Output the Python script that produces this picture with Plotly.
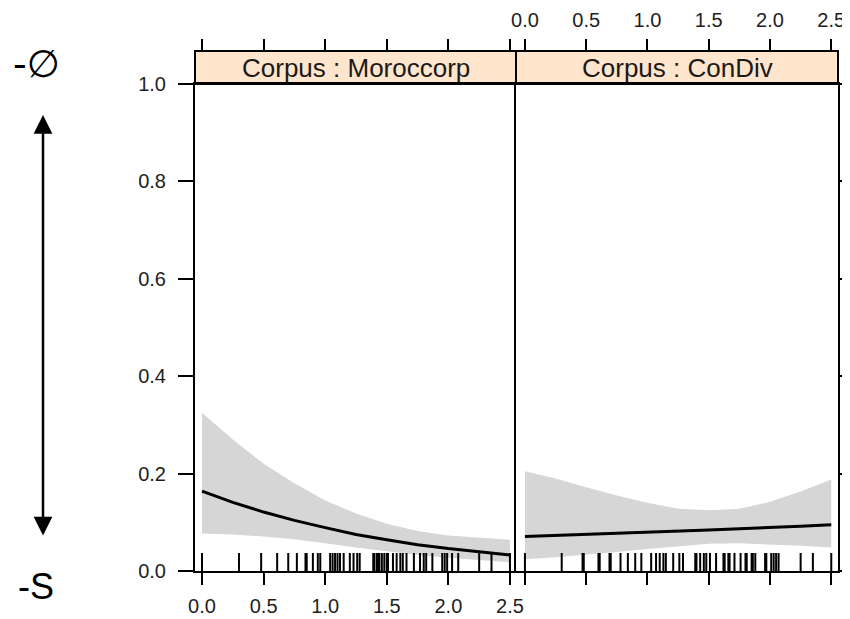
import plotly.graph_objects as go

# ---------------- data ----------------
x_grid = [0.0, 0.25, 0.5, 0.75, 1.0, 1.25, 1.5, 1.75, 2.0, 2.25, 2.5]

moro_fit = [0.164, 0.141, 0.121, 0.104, 0.089, 0.075, 0.064, 0.054, 0.046, 0.039, 0.033]
moro_upper = [0.325, 0.270, 0.220, 0.180, 0.145, 0.118, 0.097, 0.082, 0.073, 0.068, 0.064]
moro_lower = [0.077, 0.075, 0.071, 0.065, 0.057, 0.048, 0.040, 0.033, 0.027, 0.022, 0.018]

condiv_fit = [0.071, 0.073, 0.075, 0.077, 0.079, 0.082, 0.084, 0.087, 0.089, 0.092, 0.095]
condiv_upper = [0.205, 0.190, 0.172, 0.155, 0.140, 0.128, 0.125, 0.128, 0.142, 0.163, 0.188]
condiv_lower = [0.024, 0.028, 0.033, 0.039, 0.045, 0.051, 0.056, 0.057, 0.055, 0.052, 0.048]

moro_rug = [0.0, 0.30, 0.48, 0.61, 0.70, 0.77, 0.84, 0.85, 0.90, 0.94, 0.96, 1.04, 1.06,
            1.08, 1.10, 1.12, 1.15, 1.20, 1.23, 1.26, 1.28, 1.39, 1.40, 1.42, 1.43, 1.44,
            1.46, 1.48, 1.50, 1.51, 1.55, 1.58, 1.61, 1.63, 1.66, 1.72, 1.77, 1.80, 1.82,
            1.87, 1.95, 1.97, 1.99, 2.03, 2.08, 2.25, 2.35, 2.50]
condiv_rug = [0.0, 0.30, 0.47, 0.48, 0.60, 0.61, 0.69, 0.70, 0.78, 0.84, 0.90, 0.95, 1.03,
              1.07, 1.10, 1.13, 1.15, 1.21, 1.26, 1.29, 1.39, 1.40, 1.43, 1.46, 1.48, 1.51,
              1.56, 1.62, 1.63, 1.66, 1.67, 1.71, 1.76, 1.80, 1.81, 1.85, 1.86, 1.88, 1.96,
              1.97, 2.01, 2.03, 2.05, 2.07, 2.25, 2.35, 2.50]

panel_titles = ["Corpus : Moroccorp", "Corpus : ConDiv"]
x_ticks = [0.0, 0.5, 1.0, 1.5, 2.0, 2.5]
x_ticklabels = ["0.0", "0.5", "1.0", "1.5", "2.0", "2.5"]
y_ticks = [0.0, 0.2, 0.4, 0.6, 0.8, 1.0]
y_ticklabels = ["0.0", "0.2", "0.4", "0.6", "0.8", "1.0"]

# ---------------- styling ----------------
FONT = "Arial, Liberation Sans, sans-serif"
BAND = "#D6D6D6"
STRIP = "#FFE5CC"
TICKC = "#1e1e1e"
RUG_H = 0.037
LW = 2

OFF = 8                          # page body margin offset
W, H = 850 - OFF, 619 - OFF
ML, MR, MT, MB = 195 - OFF, 12, 51 - OFF, 48
plot_w = W - ML - MR            # 643
plot_h = H - MT - MB            # 520
panel_h = 487
ytop = panel_h / plot_h
split = 321 / plot_w

fig = go.Figure()

panels = [
    (moro_fit, moro_upper, moro_lower, moro_rug, "x", "y"),
    (condiv_fit, condiv_upper, condiv_lower, condiv_rug, "x2", "y2"),
]
for fit, up, lo, rug, xa, ya in panels:
    fig.add_trace(go.Scatter(
        x=x_grid + x_grid[::-1], y=up + lo[::-1], fill="toself",
        fillcolor=BAND, line=dict(width=0), mode="lines",
        showlegend=False, hoverinfo="skip", xaxis=xa, yaxis=ya))
    fig.add_trace(go.Scatter(
        x=x_grid, y=fit, mode="lines", line=dict(color="black", width=3),
        showlegend=False, xaxis=xa, yaxis=ya))
    rx, ry = [], []
    for r in rug:
        rx += [r, r, None]
        ry += [0, RUG_H, None]
    fig.add_trace(go.Scatter(
        x=rx, y=ry, mode="lines", line=dict(color="black", width=2),
        showlegend=False, hoverinfo="skip", xaxis=xa, yaxis=ya))

# dummy traces for the top axes
fig.add_trace(go.Scatter(x=[None], y=[None], xaxis="x3", yaxis="y", showlegend=False))
fig.add_trace(go.Scatter(x=[None], y=[None], xaxis="x4", yaxis="y2", showlegend=False))

xr1 = [-0.057, 2.549]
xr2 = [-0.073, 2.555]

common_x = dict(tickmode="array", tickvals=x_ticks, ticktext=x_ticklabels,
                ticks="outside", ticklen=12, tickwidth=LW, tickcolor="black",
                showgrid=False, zeroline=False, automargin=False,
                tickfont=dict(family=FONT, size=20, color=TICKC))

fig.update_layout(
    width=W, height=H,
    margin=dict(l=ML, r=MR, t=MT, b=MB, autoexpand=False),
    paper_bgcolor="white", plot_bgcolor="white",
    font=dict(family=FONT),
    showlegend=False,
    xaxis=dict(domain=[0, split], range=xr1, anchor="y",
               showline=True, linecolor="black", linewidth=LW, mirror=True,
               showticklabels=True, ticklabelstandoff=4, **common_x),
    xaxis2=dict(domain=[split, 1], range=xr2, anchor="y2",
                showline=True, linecolor="black", linewidth=LW, mirror=True,
                showticklabels=False, **common_x),
    xaxis3=dict(overlaying="x", range=xr1, side="top", anchor="free", position=1,
                showline=False, showticklabels=False, **common_x),
    xaxis4=dict(overlaying="x2", range=xr2, side="top", anchor="free", position=1,
                showline=False, showticklabels=True, ticklabelstandoff=4, **common_x),
    yaxis=dict(domain=[0, ytop], range=[0, 1], anchor="x",
               tickmode="array", tickvals=y_ticks, ticktext=y_ticklabels,
               ticks="outside", ticklen=15, tickwidth=LW, tickcolor="black",
               showline=True, linecolor="black", linewidth=LW, mirror=False,
               showgrid=False, zeroline=False, automargin=False,
               ticklabelstandoff=8,
               tickfont=dict(family=FONT, size=20, color=TICKC)),
    yaxis2=dict(domain=[0, ytop], range=[0, 1], anchor="x2", side="right",
                tickmode="array", tickvals=y_ticks,
                ticks="outside", ticklen=12, tickwidth=LW, tickcolor="black",
                showticklabels=False, automargin=False,
                showline=True, linecolor="black", linewidth=LW, mirror=True,
                showgrid=False, zeroline=False),
)

# strips
for i, (x0, x1) in enumerate([(0, split), (split, 1)]):
    fig.add_shape(type="rect", xref="paper", yref="paper",
                  x0=x0, x1=x1, y0=ytop, y1=1,
                  fillcolor=STRIP, line=dict(color="black", width=LW), layer="below")
    fig.add_annotation(xref="paper", yref="paper", x=(x0 + x1) / 2,
                       y=(ytop + 1) / 2, text=panel_titles[i], showarrow=False,
                       font=dict(family=FONT, size=26, color="#1a1a1a"),
                       xanchor="center", yanchor="middle")

# left-side annotations (screen pixel -> paper coords)
def px_x(p):
    return (p - OFF - ML) / plot_w

def px_y(p):
    return (H - MB - (p - OFF)) / plot_h

fig.add_annotation(xref="paper", yref="paper", x=px_x(36), y=px_y(64),
                   text="-∅", showarrow=False, xanchor="center", yanchor="middle",
                   font=dict(family="DejaVu Sans, Arial", size=38, color="black"))
fig.add_annotation(xref="paper", yref="paper", x=px_x(36), y=px_y(586),
                   text="-S", showarrow=False, xanchor="center", yanchor="middle",
                   font=dict(family=FONT, size=36, color="black"))
fig.add_annotation(xref="paper", yref="paper", axref="pixel", ayref="pixel",
                   x=px_x(43), y=px_y(115), ax=0, ay=537 - 115,
                   text="", showarrow=True, arrowhead=2, startarrowhead=2,
                   arrowside="end+start", arrowsize=1.5, startarrowsize=1.5,
                   arrowwidth=2.5, arrowcolor="black")

fig.write_html("out.html")
